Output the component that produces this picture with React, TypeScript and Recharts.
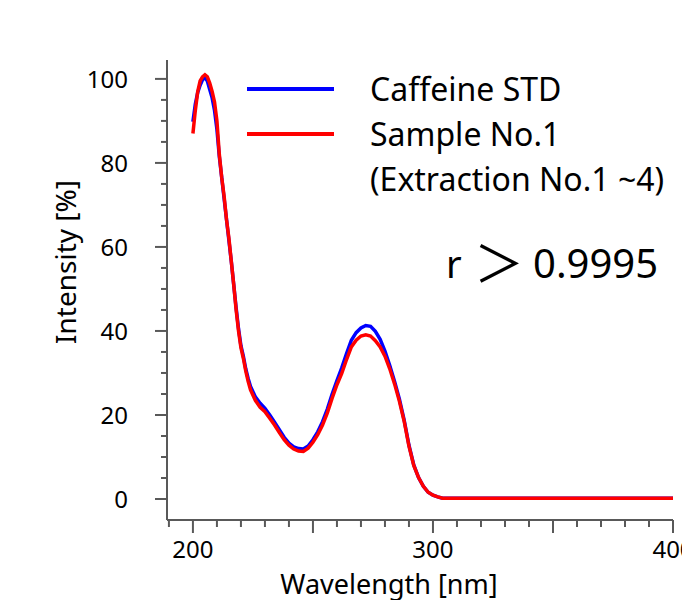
import { LineChart, Line, XAxis, YAxis, Legend } from "recharts";

const AXIS = "#595959";
const FONT = "'Noto Sans', 'Open Sans', sans-serif";

// wavelength [nm]
const wavelengths = [
  200, 201, 202, 203, 204, 205, 206, 207, 208, 209, 210, 211, 212, 213, 214, 215, 216, 217, 218, 219, 220, 221, 222, 223, 224,
  226, 228, 230, 232, 234, 236, 238, 240, 242, 244, 246, 248, 250, 252, 254, 256, 258, 260, 262, 264,
  266, 268, 270, 272, 274, 276, 278, 280, 282, 284, 286, 288, 290, 292, 294, 296, 298, 300, 302, 304,
  310, 320, 330, 340, 350, 360, 370, 380, 390, 400,
];

// intensity [%]
const caffeineStd = [
  89.8, 94, 96.8, 98.5, 99.8, 100.3, 99.5, 97.5, 95.5, 92.5, 88, 81.5, 76.5, 71.5, 66.5, 61.5, 56.5, 51, 45.5, 40.5, 36.5, 34, 31, 28.7, 26.8,
  24.3, 22.8, 21.6, 20, 18.3, 16.5, 14.7, 13.3, 12.4, 12, 11.9, 12.6, 14.1, 16, 18.4, 21.4, 25, 28.2, 31.2, 34.6,
  37.8, 39.6, 40.7, 41.3, 41.1, 39.9, 38, 35.2, 31.8, 28, 23.8, 18.8, 12.8, 8.1, 5.1, 3, 1.6, 0.9, 0.5, 0.2,
  0.2, 0.2, 0.2, 0.2, 0.2, 0.2, 0.2, 0.2, 0.2, 0.2,
];

const sample1 = [
  87, 92.5, 97, 99.5, 100.5, 101, 100.5, 99, 97, 94.5, 90, 82, 76.5, 72, 66.5, 62, 56.5, 51, 45, 40, 36, 33.5, 30.5, 28, 26,
  23.5, 21.8, 20.8, 19.2, 17.6, 15.8, 14.1, 12.8, 11.9, 11.4, 11.3, 12.1, 13.5, 15.3, 17.6, 20.5, 24, 27.2, 29.9, 33.2,
  36.2, 37.8, 38.8, 39.1, 38.8, 37.7, 36.2, 34, 31, 27.4, 23.3, 18.5, 12.6, 8, 5.1, 3, 1.6, 0.9, 0.5, 0.2,
  0.2, 0.2, 0.2, 0.2, 0.2, 0.2, 0.2, 0.2, 0.2, 0.2,
];

const xTicks = [190, 200, 210, 220, 230, 240, 250, 260, 270, 280, 290, 300, 310, 320, 330, 340, 350, 360, 370, 380, 390, 400];
const xMajor = [200, 250, 300, 350, 400];
const xLabeled = [200, 300, 400];
const yTicks = [0, 5, 10, 15, 20, 25, 30, 35, 40, 45, 50, 55, 60, 65, 70, 75, 80, 85, 90, 95, 100];
const yLabeled = [0, 20, 40, 60, 80, 100];

const data = wavelengths.map((wl, i) => ({ wl, std: caffeineStd[i], sample: sample1[i] }));

const XTick = (props: any) => {
  const { x, y, payload } = props;
  const v = payload.value;
  const len = xMajor.includes(v) ? 13 : 7;
  return (
    <g>
      <line x1={x} x2={x} y1={y} y2={y + len} stroke={AXIS} strokeWidth={2} />
      {xLabeled.includes(v) && (
        <text x={x} y={y + 38} textAnchor="middle" fontSize={24} fontFamily={FONT} fill="#000">{v}</text>
      )}
    </g>
  );
};

const YTick = (props: any) => {
  const { x, y, payload } = props;
  const v = payload.value;
  const major = yLabeled.includes(v);
  return (
    <g>
      <line x1={x - (major ? 12 : 6)} x2={x} y1={y} y2={y} stroke={AXIS} strokeWidth={2} />
      {major && (
        <text x={x - 39} y={y + 9} textAnchor="end" fontSize={24} fontFamily={FONT} fill="#000">{v}</text>
      )}
    </g>
  );
};

const renderLegend = (props: any) => {
  const { payload } = props;
  return (
    <div style={{ fontFamily: FONT, fontSize: 32, color: "#000" }}>
      {payload.map((entry: any) =>
        String(entry.value).split("\n").map((t: string, i: number) => (
          <div key={entry.value + i} style={{ display: "flex", alignItems: "center", height: 45, whiteSpace: "nowrap" }}>
            <div style={{ width: 87, height: 4, background: i === 0 ? entry.color : "transparent", marginRight: 36 }} />
            <span>{t}</span>
          </div>
        ))
      )}
    </div>
  );
};

export default function App() {
  return (
    <div style={{ position: "absolute", left: 0, top: 0, width: 682, height: 600, background: "#fff" }}>
      <LineChart width={682} height={600} data={data} margin={{ top: 60, right: 9, left: 107, bottom: 0 }}>
        <XAxis
          dataKey="wl"
          type="number"
          domain={[189.2, 400]}
          allowDataOverflow
          ticks={xTicks}
          interval={0}
          height={80}
          tickSize={0}
          tickMargin={0}
          tickLine={false}
          axisLine={{ stroke: AXIS, strokeWidth: 2 }}
          tick={(p: any) => <XTick {...p} />}
          label={() => (
            <text x={389} y={594} textAnchor="middle" fontSize={27} fontFamily={FONT} fill="#000">Wavelength [nm]</text>
          )}
        />
        <YAxis
          type="number"
          domain={[-5, 104.5]}
          allowDataOverflow
          ticks={yTicks}
          interval={0}
          width={60}
          tickSize={0}
          tickMargin={0}
          tickLine={false}
          axisLine={{ stroke: AXIS, strokeWidth: 2 }}
          tick={(p: any) => <YTick {...p} />}
          label={() => (
            <text x={65} y={262} transform="rotate(-90 65 262)" textAnchor="middle" dominantBaseline="central" fontSize={28} fontFamily={FONT} fill="#000">Intensity [%]</text>
          )}
        />
        <Legend
          layout="vertical"
          align="center"
          verticalAlign="middle"
          content={renderLegend}
          wrapperStyle={{ left: 247, top: 66, width: 435 }}
        />
        <Line dataKey="std" name="Caffeine STD" type="linear" stroke="#0000ff" strokeWidth={3.5} dot={false} isAnimationActive={false} />
        <Line dataKey="sample" name={"Sample No.1\n(Extraction No.1 ~4)"} type="linear" stroke="#ff0000" strokeWidth={3.5} dot={false} isAnimationActive={false} />
      </LineChart>
      <svg width={682} height={600} style={{ position: "absolute", left: 0, top: 0, pointerEvents: "none" }}>
        <text x={446} y={278} fontSize={38} fontFamily={FONT} fill="#000">r</text>
        <text x={474} y={282} fontSize={50} fontFamily="'Noto Sans CJK JP', sans-serif" fill="#000">＞</text>
        <text x={533} y={278} fontSize={40} fontFamily={FONT} fill="#000">0.9995</text>
      </svg>
    </div>
  );
}
